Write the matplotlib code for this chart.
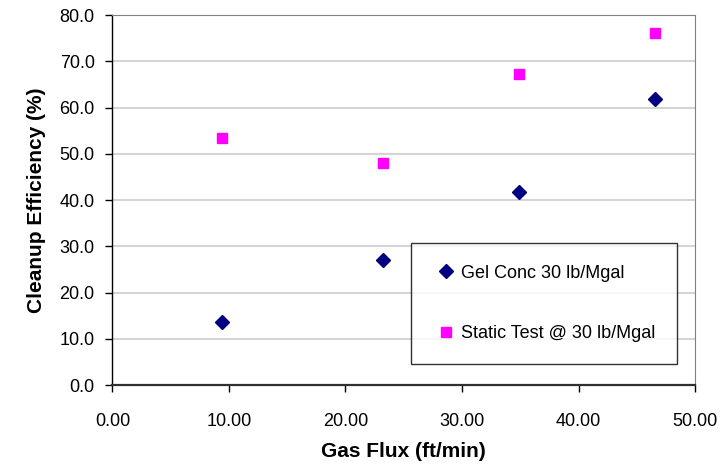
import matplotlib
matplotlib.use("Agg")
import matplotlib.pyplot as plt
from matplotlib.ticker import FormatStrFormatter, MultipleLocator

plt.rcParams['font.family'] = ['Liberation Sans', 'DejaVu Sans']

# Gas flux (ft/min) and cleanup efficiency (%)
gas_flux = [9.4, 23.2, 34.9, 46.6]
gel_conc_30 = [13.7, 27.1, 41.7, 61.9]
static_test_30 = [53.4, 48.0, 67.2, 76.2]

series_labels = ["Gel Conc 30 lb/Mgal", "Static Test @ 30 lb/Mgal"]
x_label = "Gas Flux (ft/min)"
y_label = "Cleanup Efficiency (%)"

fig = plt.figure(figsize=(7.28, 4.65), dpi=100)
ax = fig.add_axes([0.1545, 0.172, 0.8002, 0.7957])

ax.plot(gas_flux, gel_conc_30, linestyle='none', marker='D', markersize=7.2,
        color='#000080', label=series_labels[0], zorder=3)
ax.plot(gas_flux, static_test_30, linestyle='none', marker='s', markersize=7.5,
        color='#FF00FF', label=series_labels[1], zorder=3)

ax.set_xlim(0, 50)
ax.set_ylim(0, 80)
ax.xaxis.set_major_locator(MultipleLocator(10))
ax.yaxis.set_major_locator(MultipleLocator(10))
ax.xaxis.set_major_formatter(FormatStrFormatter('%.2f'))
ax.yaxis.set_major_formatter(FormatStrFormatter('%.1f'))

ax.yaxis.grid(True, color='#cccccc', linewidth=1.2)
ax.set_axisbelow(True)

ax.spines['top'].set_color('#808080')
ax.spines['right'].set_color('#808080')
ax.spines['left'].set_color('#000000')
ax.spines['bottom'].set_color('#303030')
ax.spines['bottom'].set_linewidth(1.6)
ax.spines['left'].set_linewidth(1.0)

ax.tick_params(axis='both', direction='out', length=4.8, width=1.0,
               labelsize=13, colors='#000000')
ax.tick_params(axis='x', pad=15)
ax.tick_params(axis='y', pad=8)

ax.set_xlabel(x_label, fontsize=15, fontweight='bold', labelpad=9)
ax.set_ylabel(y_label, fontsize=15, fontweight='bold', labelpad=10)

leg = ax.legend(loc='upper left', bbox_to_anchor=(0.5116, 0.3838),
                borderaxespad=0, fontsize=13, frameon=True, fancybox=False,
                edgecolor='#000000', borderpad=1.2, labelspacing=2.4,
                handlelength=1.5, handletextpad=0.1)
leg.get_frame().set_linewidth(1.0)

fig.savefig('out.png', dpi=100)
